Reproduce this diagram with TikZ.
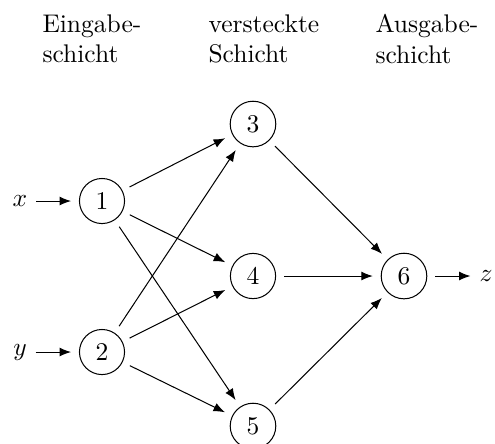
\documentclass[tikz,border=0pt]{standalone}
\usetikzlibrary{arrows.meta}
\begin{document}
\begin{tikzpicture}[x=0.392pt,y=-0.392pt,
  neuron/.style={circle,draw,outer sep=3.3pt},
  conn/.style={-{Latex[length=4.5pt,width=3.5pt]}},
  layer/.style={anchor=north west,inner sep=0pt,align=left}]
  \useasboundingbox (0,0) rectangle (495,443);
  \clip (0,0) rectangle (495,443);

  % layer captions
  \node[layer] (capin)  at (42,14)  {Eingabe-\\schicht};
  \node[layer] (caphid) at (208,14) {versteckte\\Schicht};
  \node[layer] (capout) at (375,14) {Ausgabe-\\schicht};

  % neurons
  \node[neuron] (n1) at (102,201) {1};
  \node[neuron] (n2) at (102,352) {2};
  \node[neuron] (n3) at (253,124) {3};
  \node[neuron] (n4) at (253,276) {4};
  \node[neuron] (n5) at (253,426) {5};
  \node[neuron] (n6) at (404,276) {6};

  % inputs and output
  \node (inx) at (20,201) {$x$};
  \node (iny) at (20,352) {$y$};
  \node (outz) at (486,276) {$z$};

  \draw[conn] (inx) -- (n1);
  \draw[conn] (iny) -- (n2);
  \foreach \a in {n1,n2}
    \foreach \b in {n3,n4,n5}
      \draw[conn] (\a) -- (\b);
  \foreach \a in {n3,n4,n5}
    \draw[conn] (\a) -- (n6);
  \draw[conn] (n6) -- (outz);
\end{tikzpicture}
\end{document}
